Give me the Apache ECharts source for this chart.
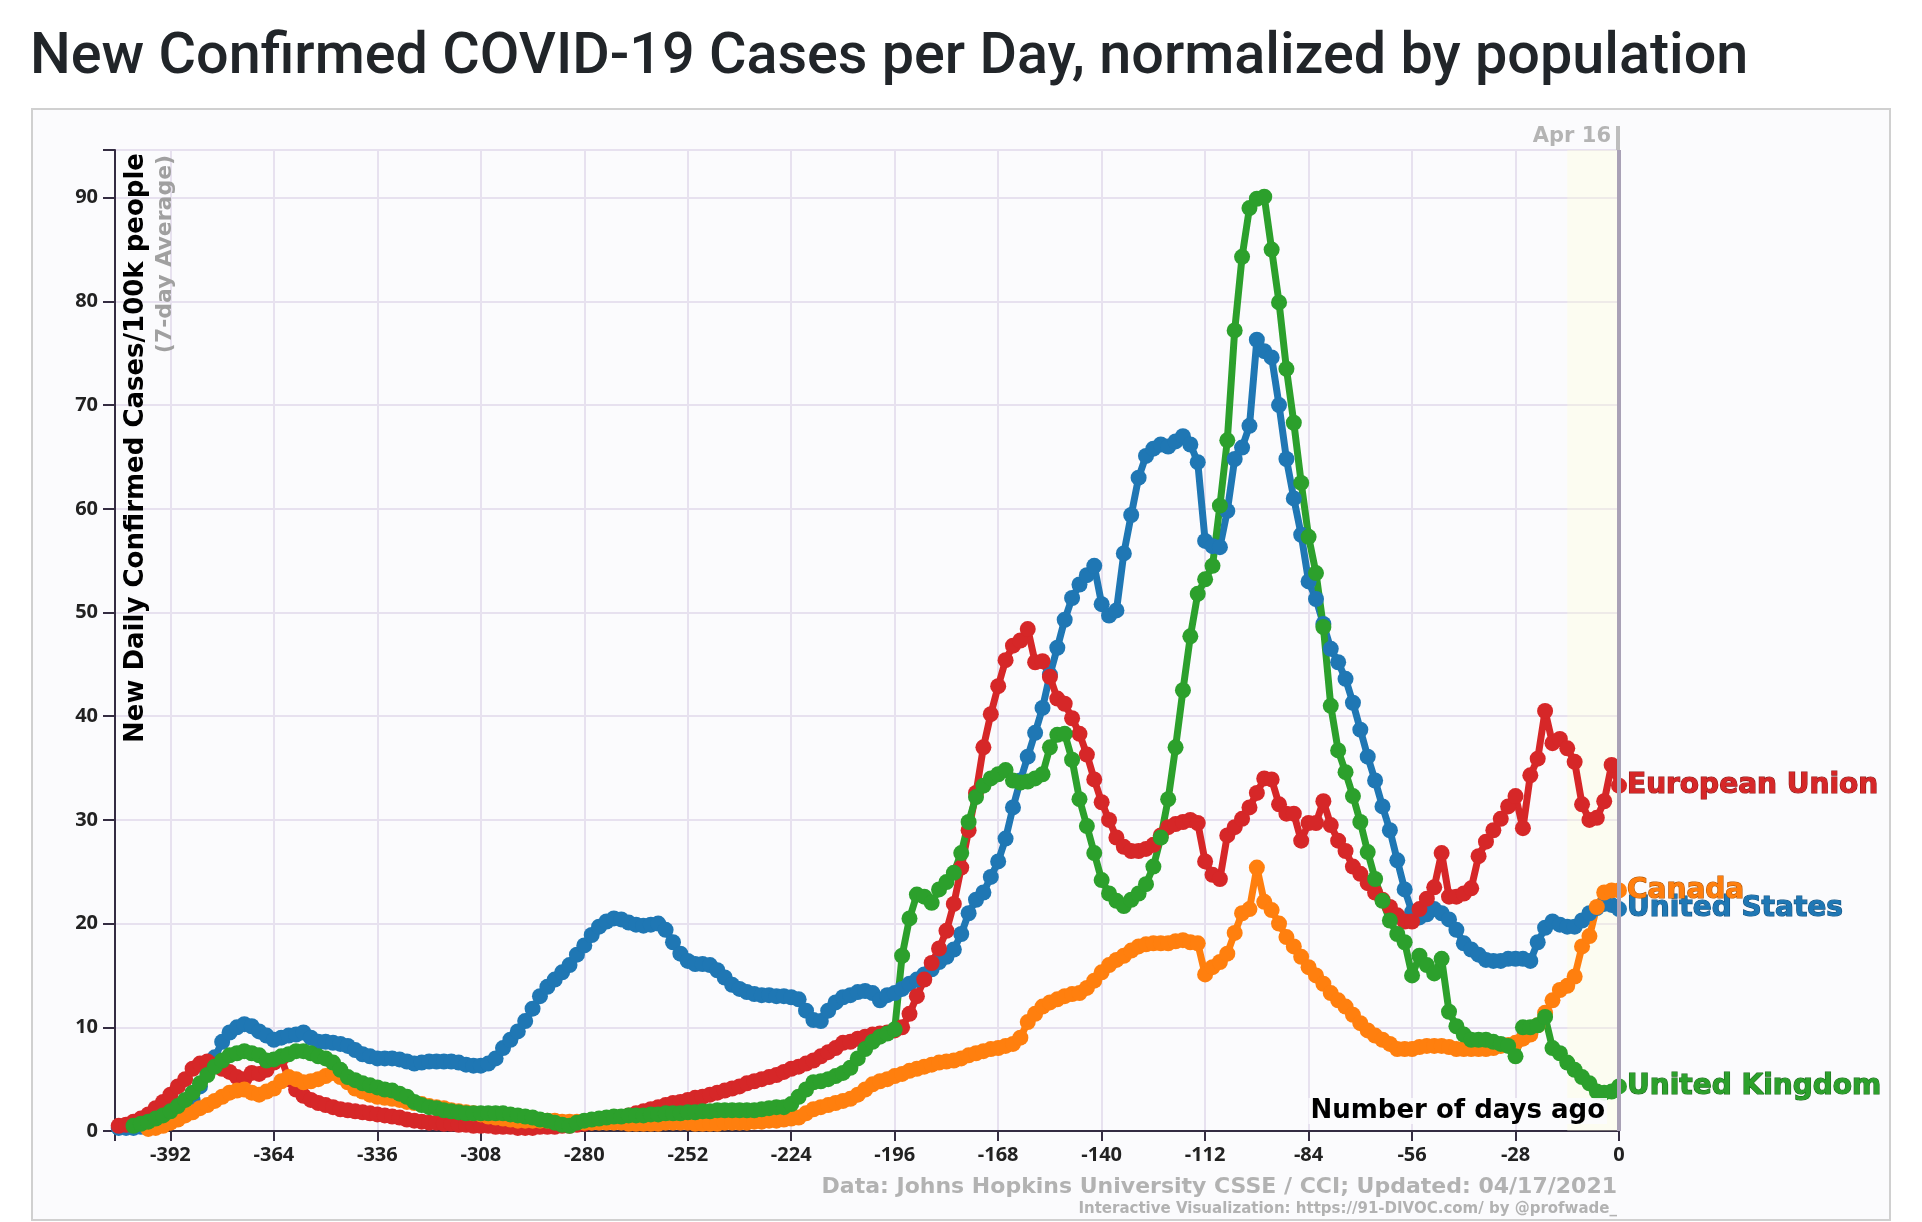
<!DOCTYPE html>
<html><head><meta charset="utf-8">
<script src="https://cdn.jsdelivr.net/npm/echarts@6/dist/echarts.min.js"></script>
<style>html,body{margin:0;padding:0;background:#fff;}#main{width:1922px;height:1222px;}</style>
</head><body><div id="main"></div>
<script>
const days = [
-406,-404,-402,-400,-398,-396,-394,-392,-390,-388,
-386,-384,-382,-380,-378,-376,-374,-372,-370,-368,
-366,-364,-362,-360,-358,-356,-354,-352,-350,-348,
-346,-344,-342,-340,-338,-336,-334,-332,-330,-328,
-326,-324,-322,-320,-318,-316,-314,-312,-310,-308,
-306,-304,-302,-300,-298,-296,-294,-292,-290,-288,
-286,-284,-282,-280,-278,-276,-274,-272,-270,-268,
-266,-264,-262,-260,-258,-256,-254,-252,-250,-248,
-246,-244,-242,-240,-238,-236,-234,-232,-230,-228,
-226,-224,-222,-220,-218,-216,-214,-212,-210,-208,
-206,-204,-202,-200,-198,-196,-194,-192,-190,-188,
-186,-184,-182,-180,-178,-176,-174,-172,-170,-168,
-166,-164,-162,-160,-158,-156,-154,-152,-150,-148,
-146,-144,-142,-140,-138,-136,-134,-132,-130,-128,
-126,-124,-122,-120,-118,-116,-114,-112,-110,-108,
-106,-104,-102,-100,-98,-96,-94,-92,-90,-88,
-86,-84,-82,-80,-78,-76,-74,-72,-70,-68,
-66,-64,-62,-60,-58,-56,-54,-52,-50,-48,
-46,-44,-42,-40,-38,-36,-34,-32,-30,-28,
-26,-24,-22,-20,-18,-16,-14,-12,-10,-8,
-6,-4,-2,0];

const unitedStates = [
0.3,0.3,0.3,0.4,0.4,0.5,0.7,1.0,1.5,2.2,
3.0,4.3,5.7,7.1,8.6,9.5,10.0,10.3,10.1,9.6,
9.2,8.8,9.0,9.2,9.3,9.5,9.0,8.6,8.6,8.5,
8.4,8.2,7.8,7.4,7.2,7.0,7.0,7.0,6.9,6.7,
6.5,6.6,6.7,6.7,6.7,6.7,6.6,6.4,6.3,6.3,
6.5,7.0,8.0,8.8,9.6,10.6,11.8,13.0,13.9,14.6,
15.3,16.0,17.0,17.9,18.9,19.7,20.2,20.5,20.4,20.1,
19.9,19.8,19.9,20.0,19.4,18.2,17.1,16.4,16.1,16.1,
16.0,15.5,14.8,14.1,13.7,13.4,13.2,13.1,13.1,13.0,
13.0,12.9,12.7,11.6,10.7,10.6,11.6,12.4,12.9,13.1,
13.4,13.5,13.3,12.6,13.1,13.3,13.7,14.2,14.6,15.1,
15.6,16.3,16.8,17.5,19.0,21.0,22.3,23.0,24.5,26.0,
28.2,31.2,33.8,36.1,38.4,40.8,44.0,46.6,49.3,51.4,
52.7,53.6,54.5,50.8,49.7,50.2,55.7,59.4,63.0,65.1,
65.8,66.2,66.0,66.5,67.0,66.2,64.5,56.9,56.4,56.3,
59.8,64.8,65.9,68.0,76.3,75.2,74.6,70.0,64.8,61.0,
57.5,53.0,51.3,48.9,46.5,45.2,43.6,41.3,38.7,36.1,
33.8,31.3,29.0,26.1,23.3,21.1,20.6,20.9,21.4,21.0,
20.4,19.4,18.1,17.5,17.0,16.5,16.4,16.4,16.6,16.6,
16.6,16.4,18.2,19.6,20.2,19.9,19.7,19.7,20.3,21.0,
21.5,21.9,21.8,21.4];

const europeanUnion = [
0.5,0.6,0.9,1.2,1.6,2.2,2.8,3.5,4.3,5.0,
6.0,6.5,6.7,6.4,6.0,5.7,5.2,5.0,5.6,5.5,
5.9,6.6,7.0,5.0,4.0,3.4,3.0,2.7,2.5,2.3,
2.1,2.0,1.9,1.8,1.7,1.6,1.5,1.4,1.3,1.1,
1.0,0.9,0.8,0.8,0.7,0.7,0.6,0.6,0.5,0.5,
0.5,0.4,0.4,0.4,0.3,0.3,0.3,0.4,0.4,0.4,
0.5,0.5,0.6,0.7,0.8,1.0,1.1,1.2,1.3,1.5,
1.7,1.9,2.1,2.3,2.5,2.7,2.8,3.0,3.2,3.3,
3.5,3.7,3.9,4.1,4.3,4.6,4.8,5.0,5.2,5.4,
5.7,6.0,6.2,6.5,6.8,7.2,7.6,8.0,8.5,8.6,
8.9,9.1,9.3,9.4,9.5,9.7,10.0,11.3,13.0,14.6,
16.2,17.6,19.3,21.9,25.4,29.0,32.6,37.0,40.2,42.9,
45.4,46.8,47.3,48.4,45.2,45.3,43.8,41.7,41.2,39.8,
38.3,36.3,33.9,31.7,30.0,28.3,27.4,27.0,27.0,27.2,
27.6,28.5,29.3,29.6,29.8,30.0,29.7,26.0,24.7,24.3,
28.5,29.3,30.1,31.2,32.6,34.0,33.9,31.5,30.6,30.6,
28.0,29.7,29.7,31.8,29.5,28.0,27.0,25.5,24.8,23.9,
23.0,22.3,21.6,20.8,20.2,20.2,21.4,22.4,23.5,26.8,
22.6,22.6,22.9,23.4,26.5,27.9,29.0,30.1,31.3,32.3,
29.2,34.3,35.9,40.5,37.4,37.8,36.9,35.6,31.5,30.0,
30.2,31.8,35.3,33.3];

const canada = [
null,null,null,null,0.2,0.3,0.5,0.8,1.1,1.5,
1.8,2.2,2.5,2.9,3.3,3.7,3.9,4.0,3.7,3.5,
3.8,4.1,4.8,5.2,5.0,4.7,4.8,5.0,5.3,5.6,
5.2,4.7,4.1,3.8,3.5,3.3,3.2,3.1,3.0,2.8,
2.7,2.6,2.4,2.3,2.2,2.0,1.9,1.8,1.7,1.6,
1.4,1.3,1.2,1.1,1.0,1.0,1.0,1.0,1.0,1.0,
0.9,0.9,0.9,0.8,0.8,0.8,0.8,0.8,0.8,0.7,
0.7,0.7,0.7,0.7,0.8,0.8,0.8,0.8,0.7,0.7,
0.7,0.7,0.8,0.8,0.8,0.8,0.9,0.9,1.0,1.0,
1.1,1.2,1.3,1.7,2.1,2.3,2.5,2.7,2.9,3.1,
3.5,4.0,4.5,4.8,5.0,5.3,5.5,5.8,6.0,6.2,
6.4,6.6,6.7,6.8,7.0,7.3,7.5,7.7,7.9,8.0,
8.2,8.4,9.0,10.5,11.3,12.0,12.4,12.7,13.0,13.2,
13.3,13.8,14.5,15.3,16.0,16.5,16.9,17.4,17.8,18.0,
18.1,18.1,18.1,18.3,18.4,18.2,18.1,15.1,15.8,16.3,
17.1,19.1,21.0,21.4,25.4,22.1,21.3,20.0,18.7,17.8,
16.8,15.8,15.0,14.2,13.3,12.6,12.0,11.2,10.4,9.7,
9.2,8.8,8.4,7.9,7.9,7.9,8.1,8.2,8.2,8.2,
8.1,7.9,7.9,7.9,7.9,7.9,8.0,8.2,8.3,8.5,
8.9,9.3,10.2,11.4,12.6,13.6,14.0,14.9,17.8,18.8,
21.6,23.0,23.2,23.2];

const unitedKingdom = [
null,null,0.5,0.7,0.9,1.2,1.5,1.9,2.4,3.0,
3.7,4.6,5.4,6.2,6.8,7.3,7.5,7.7,7.5,7.3,
6.8,6.9,7.2,7.4,7.7,7.7,7.5,7.2,7.0,6.6,
5.9,5.2,4.9,4.6,4.4,4.2,4.0,3.9,3.6,3.3,
2.8,2.5,2.3,2.2,2.0,1.9,1.8,1.7,1.7,1.7,
1.7,1.7,1.7,1.6,1.5,1.4,1.3,1.1,1.0,0.8,
0.6,0.5,0.8,1.0,1.1,1.2,1.3,1.4,1.4,1.5,
1.5,1.5,1.6,1.6,1.7,1.7,1.7,1.8,1.8,1.9,
1.9,2.0,2.0,2.0,2.0,2.0,2.0,2.1,2.2,2.3,
2.3,2.6,3.3,4.0,4.7,4.8,5.0,5.3,5.6,6.1,
7.0,7.9,8.6,9.1,9.4,9.8,16.9,20.5,22.8,22.6,
22.0,23.3,24.0,24.9,26.8,29.8,32.2,33.3,34.0,34.4,
34.8,33.8,33.6,33.7,34.0,34.4,37.0,38.2,38.3,35.8,
32.0,29.4,26.8,24.2,22.9,22.2,21.7,22.3,22.9,23.8,
25.5,28.3,32.0,37.0,42.5,47.7,51.8,53.2,54.5,60.3,
66.6,77.2,84.3,89.0,89.9,90.1,85.0,79.9,73.5,68.3,
62.5,57.3,53.8,48.6,41.0,36.7,34.6,32.3,29.8,26.9,
24.3,22.2,20.3,19.0,18.2,15.0,16.9,16.0,15.2,16.6,
11.5,10.1,9.3,8.8,8.8,8.8,8.6,8.4,8.2,7.2,
10.0,10.0,10.2,11.0,8.0,7.5,6.6,5.9,5.2,4.6,
3.8,3.7,3.8,4.3];

const xTickLabels = [-392,-364,-336,-308,-280,-252,-224,-196,-168,-140,-112,-84,-56,-28,0];
const yTickLabels = [0,10,20,30,40,50,60,70,80,90];
const xDomain = [-407, 0];
const yDomain = [0, 94.6];
const highlightStart = -14;

const chart = echarts.init(document.getElementById('main'), null, {renderer:'canvas', width:1922, height:1222});

const axisColor = '#342c42';
const gridColor = '#e7e1ef';
const tickFont = {fontFamily:'Open Sans', fontWeight:'bold', fontSize:20, color:'#222'};

function mk(name, vals, color, dark) {
  return {
    name, type:'line', silent:true, animation:false,
    data: days.map((d,i)=>[d, vals[i]]),
    symbol:'circle', symbolSize:16, showSymbol:true,
    lineStyle:{width:7, color}, itemStyle:{color, borderWidth:0},
    emphasis:{disabled:true},
    endLabel:{show:true, formatter:()=>name, color, fontFamily:'DejaVu Sans', fontWeight:'bold',
      fontSize:28, textBorderColor:dark, textBorderWidth:1.2, distance:8}
  };
}

chart.setOption({
  animation:false,
  grid:{left:115, top:150, right:303, bottom:91, show:false},
  xAxis:{type:'value', min:xDomain[0], max:xDomain[1],
    axisLine:{show:true, onZero:false, lineStyle:{color:axisColor, width:2}},
    axisTick:{show:true, length:10, lineStyle:{color:axisColor, width:2}, customValues:[xDomain[0]].concat(xTickLabels)},
    axisLabel:Object.assign({customValues:xTickLabels, margin:14}, tickFont),
    splitLine:{show:true, lineStyle:{color:gridColor, width:2}}},
  yAxis:{type:'value', min:yDomain[0], max:yDomain[1],
    axisLine:{show:true, onZero:false, lineStyle:{color:axisColor, width:2}},
    axisTick:{show:true, length:12, lineStyle:{color:axisColor, width:2}, customValues:yTickLabels.concat([yDomain[1]])},
    axisLabel:Object.assign({customValues:yTickLabels, margin:17}, tickFont),
    splitLine:{show:true, lineStyle:{color:gridColor, width:2}}},
  series:[
    {type:'line', data:[], silent:true,
      markArea:{silent:true, itemStyle:{color:'rgba(255,255,215,0.3)'}, data:[[{xAxis:highlightStart},{xAxis:0}]]},
      markLine:{silent:true, symbol:'none', label:{show:false}, lineStyle:{color:'#a9a1b6', width:4, type:'solid'}, data:[{xAxis:0}]}},
    mk('United States', unitedStates, '#1f77b4', '#145380'),
    mk('European Union', europeanUnion, '#d62728', '#8c1516'),
    mk('Canada', canada, '#ff7f0e', '#b35400'),
    mk('United Kingdom', unitedKingdom, '#2ca02c', '#1a6b1a')
  ]
});

const x0 = chart.convertToPixel({xAxisIndex:0}, 0);
const yTop = chart.convertToPixel({yAxisIndex:0}, yDomain[1]);

chart.setOption({graphic:[
  {type:'rect', z:-10, silent:true, shape:{x:32, y:109, width:1858, height:1111}, style:{fill:'#fbfbfd', stroke:'#d0d0d0', lineWidth:2}},
  {type:'text', z:10, x:30, y:59, style:{text:'New Confirmed COVID-19 Cases per Day, normalized by population', fontFamily:'Roboto', fontWeight:500, fontSize:57.5, fill:'#212529', align:'left', verticalAlign:'middle'}},
  {type:'rect', z:10, silent:true, shape:{x:x0-3, y:yTop-24, width:4, height:24}, style:{fill:'#bdbdbd'}},
  {type:'text', z:10, x:x0-8, y:yTop-13, style:{text:'Apr 16', fontFamily:'DejaVu Sans', fontWeight:'bold', fontSize:21, fill:'#b4b4b4', align:'right', verticalAlign:'middle'}},
  {type:'text', z:10, x:136, y:448, rotation:Math.PI/2, style:{text:'New Daily Confirmed Cases/100k people', fontFamily:'DejaVu Sans', fontWeight:'bold', fontSize:26, fill:'#000', align:'center', verticalAlign:'middle'}},
  {type:'text', z:10, x:165, y:254, rotation:Math.PI/2, style:{text:'(7-day Average)', fontFamily:'DejaVu Sans', fontWeight:'bold', fontSize:22, fill:'#a0a0a0', align:'center', verticalAlign:'middle'}},
  {type:'text', z:10, x:x0-12, y:1111, style:{text:'Number of days ago', fontFamily:'DejaVu Sans', fontWeight:'bold', fontSize:26, fill:'#000', align:'right', verticalAlign:'middle', backgroundColor:'rgba(251,251,253,0.9)', padding:[0,2]}},
  {type:'text', z:10, x:1617, y:1187, style:{text:'Data: Johns Hopkins University CSSE / CCI; Updated: 04/17/2021', fontFamily:'DejaVu Sans', fontWeight:'bold', fontSize:22, fill:'#b2b2b2', align:'right', verticalAlign:'middle'}},
  {type:'text', z:10, x:1617, y:1209, style:{text:'Interactive Visualization: https://91-DIVOC.com/ by @profwade_', fontFamily:'DejaVu Sans', fontWeight:'bold', fontSize:15, fill:'#b2b2b2', align:'right', verticalAlign:'middle'}}
]});
</script>
</body></html>
